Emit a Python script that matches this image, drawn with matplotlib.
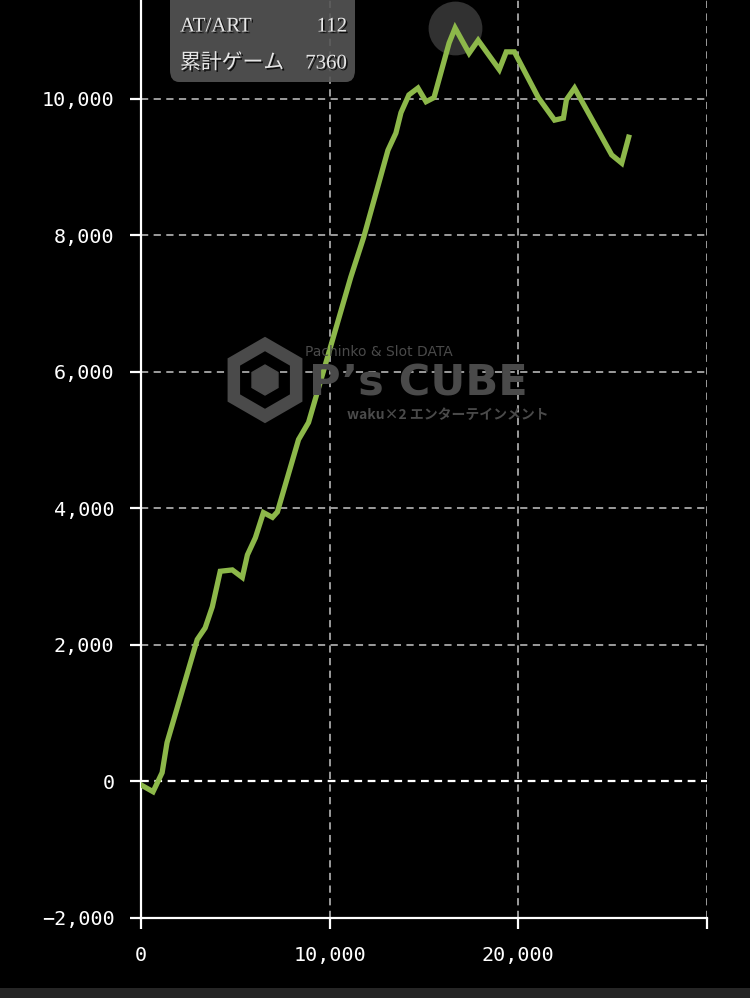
import matplotlib
matplotlib.use("Agg")
import matplotlib.pyplot as plt
import matplotlib.patheffects as pe
from matplotlib.patches import FancyBboxPatch, Rectangle, Polygon
from matplotlib.ticker import FuncFormatter

# cumulative games (x) vs. difference in medals (y)
games = [0, 640, 1120, 1380, 2980, 3400, 3780, 4200, 4840, 5370, 5640, 6060,
         6490, 6970, 7230, 8350, 8880, 11120, 11810, 13090, 13510, 13780,
         14200, 14680, 15110, 15530, 16330, 16650, 17390, 17870, 18990,
         19360, 19790, 21060, 21920, 22390, 22550, 22980, 24950, 25480, 25850]
medals = [-50, -150, 130, 570, 2080, 2250, 2560, 3080, 3100, 2990, 3320, 3570,
          3940, 3870, 3950, 5010, 5260, 7390, 7980, 9250, 9500, 9800,
          10060, 10160, 9960, 10020, 10820, 11040, 10670, 10860, 10430,
          10690, 10690, 10020, 9690, 9720, 9990, 10160, 9180, 9060, 9440]

x_ticks = [0, 10000, 20000, 30000]
x_labels = ["0", "10,000", "20,000", ""]
y_ticks = [-2000, 0, 2000, 4000, 6000, 8000, 10000]

tooltip_rows = [("AT/ART", "112"), ("累計ゲーム", "7360")]

W, H = 750, 998


def px(x, y):
    # pixel position (from top-left) -> figure fraction
    return x / W, 1 - y / H


fig = plt.figure(figsize=(W / 100, H / 100), dpi=100, facecolor="black")
l, b = px(141, 918)
r, t = px(707, 0)
ax = fig.add_axes([l, b, r - l, t - b], facecolor="black")

ax.set_xlim(0, 30000)
ax.set_ylim(-2000, 11450)

# grid
for xv in x_ticks[1:]:
    ax.axvline(xv, color="#a8a8a8", lw=1.3, ls=(0, (4, 3)), zorder=1)
for yv in y_ticks[2:]:
    ax.axhline(yv, color="#a8a8a8", lw=1.3, ls=(0, (4, 3)), zorder=1)
ax.axhline(0, color="white", lw=1.6, ls=(0, (3.5, 2.5)), zorder=1)

# watermark
wm = "#4a4a4a"
fig.text(*px(379, 352), "Pachinko & Slot DATA", color=wm, fontsize=10,
         ha="center", va="center", zorder=0)
fig.text(*px(418, 383), "P’s CUBE", color=wm, fontsize=31, fontweight="bold",
         ha="center", va="center", zorder=0)
fig.text(*px(448, 415), "waku×2 エンターテインメント", color=wm, fontsize=10,
         family=["Noto Sans CJK JP", "DejaVu Sans"], fontweight="bold",
         ha="center", va="center", zorder=0)
cx, cy, rad = 265, 380, 36
hexagon = [px(cx, cy - rad), px(cx + 0.866 * rad, cy - rad / 2),
           px(cx + 0.866 * rad, cy + rad / 2), px(cx, cy + rad),
           px(cx - 0.866 * rad, cy + rad / 2), px(cx - 0.866 * rad, cy - rad / 2)]
fig.patches.append(Polygon(hexagon, closed=True, fill=False, ec=wm, lw=9,
                           transform=fig.transFigure, zorder=0))
cr = 15
cube = [px(cx, cy - cr), px(cx + 0.866 * cr, cy - cr / 2),
        px(cx + 0.866 * cr, cy + cr / 2), px(cx, cy + cr),
        px(cx - 0.866 * cr, cy + cr / 2), px(cx - 0.866 * cr, cy - cr / 2)]
fig.patches.append(Polygon(cube, closed=True, fc=wm, ec=wm,
                           transform=fig.transFigure, zorder=0))

# hover marker at the peak
peak = medals.index(max(medals))
ax.scatter([games[peak]], [medals[peak]], s=1500, color="#3a3a3a", alpha=0.85,
           zorder=2, linewidths=0)

ax.plot(games, medals, color="#8db84a", lw=3.8, solid_joinstyle="miter", zorder=3)

# axes styling
for side in ["top", "right"]:
    ax.spines[side].set_visible(False)
for side in ["left", "bottom"]:
    ax.spines[side].set_color("white")
    ax.spines[side].set_linewidth(1.6)

ax.set_xticks(x_ticks)
ax.set_xticklabels(x_labels)
ax.set_yticks(y_ticks)
ax.yaxis.set_major_formatter(FuncFormatter(lambda v, p: f"{int(v):,}".replace("-", "−")))
ax.tick_params(colors="white", labelcolor="white", length=8, width=1.6,
               labelsize=14.5)
ax.tick_params(axis="y", pad=11)
ax.tick_params(axis="x", pad=12)
for lab in ax.get_xticklabels() + ax.get_yticklabels():
    lab.set_family("DejaVu Sans Mono")

# tooltip
x0, y0 = px(170, 82)
x1, y1 = px(355, -12)
fig.patches.append(FancyBboxPatch((x0, y0), x1 - x0, y1 - y0,
                                  boxstyle="round,pad=0,rounding_size=0.012",
                                  fc="#555555", ec="none", alpha=0.9,
                                  transform=fig.transFigure, zorder=5))
shadow = [pe.withSimplePatchShadow(offset=(1.2, -1.2), shadow_rgbFace="black", alpha=0.8)]
fam = ["Liberation Serif", "Noto Sans CJK JP"]
for i, (name, val) in enumerate(tooltip_rows):
    yy = 27 + 37 * i
    fig.text(*px(180, yy), name, color="#e6e6e6", fontsize=15, family=fam,
             ha="left", va="center", zorder=6, path_effects=shadow)
    fig.text(*px(347, yy), val, color="#e6e6e6", fontsize=15, family=fam,
             ha="right", va="center", zorder=6, path_effects=shadow)

# bottom strip
sx, sy = px(0, 998)
fig.patches.append(Rectangle((sx, sy), 1, 10 / H, fc="#262626", ec="none",
                             transform=fig.transFigure, zorder=0))

fig.savefig("out.png", dpi=100, facecolor="black")
